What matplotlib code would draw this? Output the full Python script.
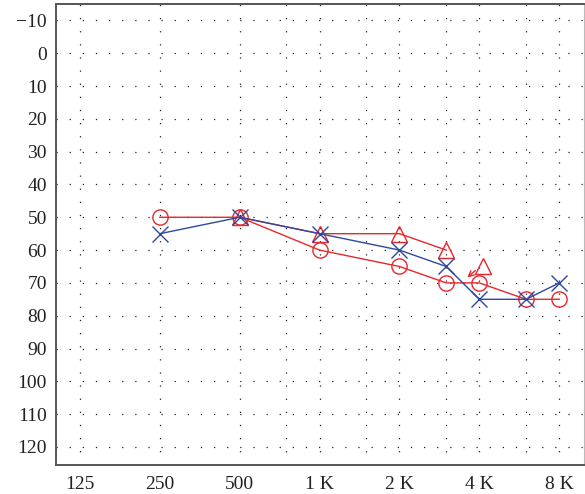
import matplotlib
matplotlib.use("Agg")
import matplotlib.pyplot as plt
from matplotlib.ticker import FixedLocator, NullFormatter

# --- dados do audiograma ---
freq_labels = ['125', '250', '500', '1 K', '2 K', '4 K', '8 K']
freq_ticks = [125, 250, 500, 1000, 2000, 4000, 8000]
freq_minor = [750, 1500, 3000, 6000]
db_ticks = [-10, 0, 10, 20, 30, 40, 50, 60, 70, 80, 90, 100, 110, 120]

circ_freq = [250, 500, 1000, 2000, 3000, 4000, 6000, 8000]
circ_db = [50, 50, 60, 65, 70, 70, 75, 75]

cross_freq = [250, 500, 1000, 2000, 3000, 4000, 6000, 8000]
cross_db = [55, 50, 55, 60, 65, 75, 75, 70]

tri_freq = [500, 1000, 2000, 3000]
tri_db = [50, 55, 55, 60]
tri_nr_freq = [4000]   # triangulo isolado com seta (sem resposta)
tri_nr_db = [65]

red = '#e8262c'
blue = '#2c4a9e'

plt.rcParams['font.family'] = ['Liberation Serif', 'DejaVu Serif']

fig = plt.figure(figsize=(5.85, 4.94), dpi=100)
ax = fig.add_axes([56 / 585, 29 / 494, 528 / 585, 461 / 494])

ax.set_xscale('log', base=2)
ax.set_xlim(125 * 2 ** -0.3, 8000 * 2 ** 0.31)
ax.set_ylim(125.5, -15)

ax.xaxis.set_major_locator(FixedLocator(freq_ticks))
ax.xaxis.set_minor_locator(FixedLocator(freq_minor))
ax.xaxis.set_minor_formatter(NullFormatter())
ax.set_xticklabels(freq_labels)
ax.set_yticks(db_ticks)
ax.set_yticklabels([('\u2212%d' % -v) if v < 0 else str(v) for v in db_ticks])

ax.tick_params(which='both', length=0, labelsize=14, colors='#222222')
ax.tick_params(axis='y', pad=6.5)
ax.tick_params(axis='x', pad=8)

# grade pontilhada (oitavas + meias oitavas)
grid_kw = dict(color='#222222', linewidth=0.9, linestyle=(0, (1, 9.5)))
ax.grid(True, which='major', axis='both', **grid_kw)
ax.grid(True, which='minor', axis='x', **grid_kw)
ax.set_axisbelow(True)

for lado in ['left', 'bottom', 'top']:
    ax.spines[lado].set_color('#555555')
    ax.spines[lado].set_linewidth(1.4)
ax.spines['right'].set_color('#bbbbbb')
ax.spines['right'].set_linewidth(0.8)

# --- series ---
ax.plot(circ_freq, circ_db, color=red, lw=1.0, marker='o', ms=11,
        mfc='none', mec=red, mew=1.0, zorder=3)
ax.plot(tri_freq, tri_db, color=red, lw=1.0, marker='^', ms=12,
        mfc='none', mec=red, mew=1.0, zorder=3)

nr_x = [f * 1.035 for f in tri_nr_freq]
ax.plot(nr_x, tri_nr_db, color=red, lw=0, marker='^', ms=12,
        mfc='none', mec=red, mew=1.0, zorder=3)
for fx, fy in zip(nr_x, tri_nr_db):
    # seta saindo do canto inferior esquerdo do triangulo
    ax.annotate('',
                xy=(fx * 2 ** (-16 / 80), fy + 11 / 3.28),
                xytext=(fx * 2 ** (-8 / 80), fy + 4 / 3.28),
                arrowprops=dict(arrowstyle='->', color=red, lw=1.0,
                                shrinkA=0, shrinkB=0, mutation_scale=10))

ax.plot(cross_freq, cross_db, color=blue, lw=1.0, marker='x', ms=11,
        mec=blue, mew=1.0, zorder=4)

fig.savefig('out.png', dpi=100)
